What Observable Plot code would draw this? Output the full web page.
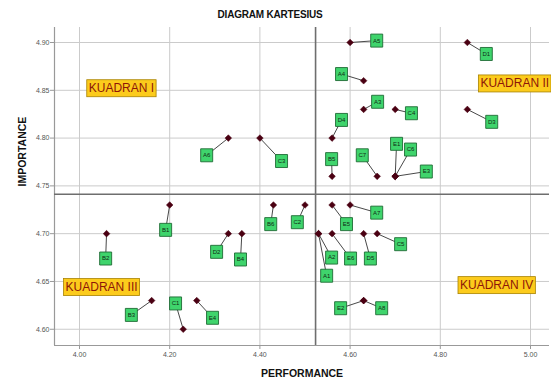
<!DOCTYPE html>
<html>
<head>
<meta charset="utf-8">
<script src="https://cdn.jsdelivr.net/npm/d3@7"></script>
<script src="https://cdn.jsdelivr.net/npm/@observablehq/plot@0.6"></script>
<style>
  body { margin: 0; background: #fff; font-family: "Liberation Sans", Arial, sans-serif; }
  #wrap { position: relative; width: 551px; height: 385px; overflow: hidden; }
  #title { position: absolute; left: 270px; top: 8px; transform: translateX(-50%); font-size: 10px; font-weight: bold; white-space: nowrap; line-height: 14px; color: #111; letter-spacing: -0.2px; }
  #chart { position: absolute; left: 0; top: 22px; }
</style>
</head>
<body>
<div id="wrap">
  <div id="title">DIAGRAM KARTESIUS</div>
  <div id="chart"></div>
</div>
<script>
// ---- data ----
const codes = ["A5","D1","A4","A3","C4","D3","D4","B5","C7","E1","C6","E3","A6","C3","B1","B2","D2","B4","B6","C2","E5","A7","A1","A2","E6","D5","C5","E2","A8","B3","C1","E4"];
const performance = [4.60,4.86,4.63,4.63,4.70,4.86,4.56,4.56,4.66,4.70,4.70,4.70,4.33,4.40,4.20,4.06,4.33,4.36,4.43,4.50,4.56,4.60,4.53,4.53,4.56,4.63,4.66,4.63,4.63,4.16,4.23,4.26];
const importance = [4.90,4.90,4.86,4.83,4.83,4.83,4.80,4.76,4.76,4.76,4.76,4.76,4.80,4.80,4.73,4.70,4.70,4.70,4.73,4.73,4.73,4.73,4.70,4.70,4.70,4.70,4.70,4.63,4.63,4.63,4.60,4.63];
// label placement (shift of each label box from its point, in data units)
const labelShiftX = [0.059,0.042,-0.049,0.031,0.036,0.054,0.021,-0.001,-0.033,0.003,0.034,0.069,-0.048,0.048,-0.009,-0.002,-0.026,-0.003,-0.006,-0.017,0.032,0.059,0.018,0.029,0.041,0.015,0.052,-0.051,0.040,-0.045,-0.017,0.035];
const labelShiftY = [0.002,-0.012,0.007,0.008,-0.004,-0.013,0.019,0.018,0.022,0.034,0.028,0.005,-0.018,-0.024,-0.026,-0.026,-0.019,-0.027,-0.020,-0.018,-0.020,-0.008,-0.044,-0.025,-0.026,-0.026,-0.011,-0.008,-0.008,-0.015,0.027,-0.018];
const xTicks = [4.00,4.20,4.40,4.60,4.80,5.00];
const yTicks = [4.60,4.65,4.70,4.75,4.80,4.85,4.90];
const quadNames = ["KUADRAN I","KUADRAN II","KUADRAN III","KUADRAN IV"];
const quadX = [4.093,4.965,4.049,4.925];
const quadY = [4.852,4.857,4.644,4.646];

const rows = codes.map((c, i) => ({
  code: c, x: performance[i], y: importance[i],
  lx: performance[i] + labelShiftX[i], ly: importance[i] + labelShiftY[i]
}));
const quads = quadNames.map((t, i) => ({t, x: quadX[i], y: quadY[i]}));
const meanX = d3.mean(performance);
const meanY = d3.mean(importance);

const xDomain = [3.9446, 5.0421];
const yDomain = [4.5830, 4.9157];

const boxSymbol = { draw(ctx) { ctx.rect(-6, -6.5, 12, 13); } };

const chart = Plot.plot({
  width: 551, height: 363,
  marginLeft: 54, marginRight: 2, marginTop: 5, marginBottom: 40,
  style: { fontFamily: "'Liberation Sans', Arial, sans-serif", background: "#fff", overflow: "visible" },
  x: { domain: xDomain, label: null },
  y: { domain: yDomain, label: null },
  marks: [
    Plot.gridX(xTicks, { stroke: "#cbcbcb", strokeOpacity: 1, strokeWidth: 1 }),
    Plot.gridY(yTicks, { stroke: "#cbcbcb", strokeOpacity: 1, strokeWidth: 1 }),
    Plot.ruleX([xDomain[0]], { stroke: "#999", strokeWidth: 1.2 }),
    Plot.ruleY([yDomain[0]], { stroke: "#999", strokeWidth: 1.2 }),
    Plot.ruleX([meanX], { stroke: "#6e6e6e", strokeWidth: 1.6 }),
    Plot.ruleY([meanY], { stroke: "#6e6e6e", strokeWidth: 1.6 }),
    Plot.axisX({ ticks: xTicks, tickFormat: d3.format(".2f"), fontSize: 7, tickSize: 4, tickPadding: 3, stroke: "#999", fill: "#555", label: null }),
    Plot.axisY({ ticks: yTicks, tickFormat: d3.format(".2f"), fontSize: 7, tickSize: 4, tickPadding: 1, stroke: "#999", fill: "#555", label: null }),
    Plot.link(rows, { x1: "x", y1: "y", x2: "lx", y2: "ly", stroke: "#333", strokeWidth: 0.9 }),
    Plot.dot(rows, { x: "x", y: "y", symbol: "diamond2", r: 3, fill: "#4a0012", stroke: "#4a0012", strokeWidth: 0.5 }),
    Plot.dot(rows, { x: "lx", y: "ly", symbol: boxSymbol, fill: "#3fd46c", stroke: "#1f6b35", strokeWidth: 0.9 }),
    Plot.text(rows, { x: "lx", y: "ly", text: "code", fontSize: 6, fill: "#102a14" }),
    Plot.text(quads, { x: "x", y: "y", text: "t", fontSize: 12, fill: "#8e1608" }),
    Plot.text(["PERFORMANCE"], { frameAnchor: "bottom", dy: 31, fontSize: 10.5, fontWeight: "bold", fill: "#111" }),
    Plot.text(["IMPORTANCE"], { frameAnchor: "left", dx: -32, rotate: -90, fontSize: 10.5, fontWeight: "bold", fill: "#111" })
  ]
});
document.getElementById("chart").append(chart);

// yellow boxes behind quadrant labels
chart.querySelectorAll("text").forEach(t => {
  if (!t.textContent.startsWith("KUADRAN")) return;
  const b = t.getBBox();
  const r = document.createElementNS("http://www.w3.org/2000/svg", "rect");
  r.setAttribute("x", b.x - 2);
  r.setAttribute("y", b.y - 1.5);
  r.setAttribute("width", b.width + 4);
  r.setAttribute("height", b.height + 3);
  r.setAttribute("fill", "#fccb1c");
  r.setAttribute("stroke", "#a88200");
  r.setAttribute("stroke-width", "0.8");
  const tr = t.getAttribute("transform");
  if (tr) r.setAttribute("transform", tr);
  t.parentNode.insertBefore(r, t);
});
</script>
</body>
</html>
